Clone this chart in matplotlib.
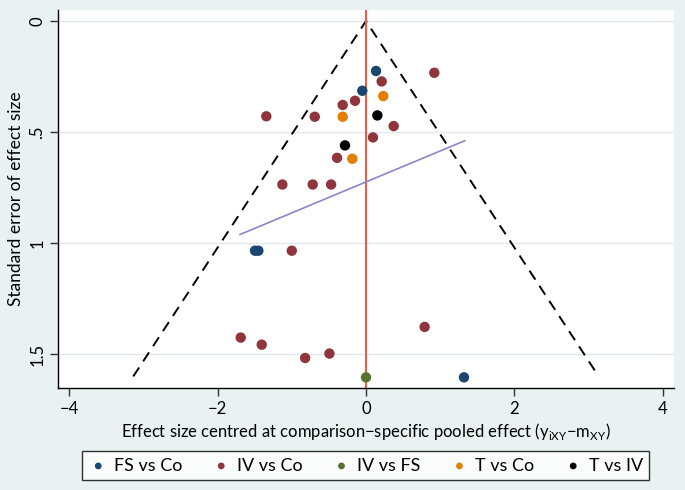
import matplotlib
matplotlib.use("Agg")
import matplotlib.pyplot as plt
import numpy as np

plt.rcParams['font.family'] = ['Lato', 'DejaVu Sans']

# ---- data (x = centred effect size, y = standard error) ----
fs_co_x = [0.135, -0.05, -1.495, -1.45, 1.32]
fs_co_y = [0.225, 0.314, 1.034, 1.034, 1.604]

iv_co_x = [0.92, 0.211, -0.148, -0.314, -1.343, -0.69, 0.373, 0.094, -0.39,
           -1.127, -0.718, -0.47, -1.0, 0.79, -1.688, -1.405, -0.82, -0.493]
iv_co_y = [0.233, 0.272, 0.359, 0.378, 0.429, 0.431, 0.473, 0.524, 0.616,
           0.736, 0.736, 0.736, 1.034, 1.377, 1.425, 1.457, 1.517, 1.497]

iv_fs_x = [0.0]
iv_fs_y = [1.604]

t_co_x = [0.233, -0.314, -0.185]
t_co_y = [0.338, 0.431, 0.62]

t_iv_x = [0.153, -0.283]
t_iv_y = [0.425, 0.56]

series = [
    ("FS vs Co", fs_co_x, fs_co_y, "#1a476f"),
    ("IV vs Co", iv_co_x, iv_co_y, "#90353b"),
    ("IV vs FS", iv_fs_x, iv_fs_y, "#55752f"),
    ("T vs Co", t_co_x, t_co_y, "#e37e00"),
    ("T vs IV", t_iv_x, t_iv_y, "#000000"),
]

# pseudo confidence limits
se_max = 1.6
z = 1.96
# regression line endpoints
reg_x = [-1.697, 1.33]
reg_y = [0.961, 0.539]

xticks = [-4, -2, 0, 2, 4]
yticks = [0, 0.5, 1, 1.5]
yticklabels = ["0", ".5", "1", "1.5"]

bg = "#e9f1f3"
fig = plt.figure(figsize=(6.85, 4.9), dpi=100, facecolor=bg)
ax = fig.add_axes([58/685, 1-388/490, (674-58)/685, (388-10)/490])
ax.set_facecolor("white")

ax.set_xlim(-4.15, 4.15)
ax.set_ylim(1.652, -0.0495)

for yt in yticks:
    ax.axhline(yt, color="#dfe9ed", lw=1.0, zorder=0)

ax.plot([-z*se_max, 0, z*se_max], [se_max, 0, se_max], color="black",
        lw=1.4, dashes=(5.5, 3.8), zorder=2)
ax.axvline(0, color="#e8604a", lw=1.5, zorder=2)
ax.plot(reg_x, reg_y, color="#8c86c8", lw=1.2, zorder=2)

for name, xs, ys, c in series:
    ax.scatter(xs, ys, s=56, color=c, edgecolors="none", zorder=3, label=name)

for s in ["top", "right"]:
    ax.spines[s].set_visible(False)
for s in ["left", "bottom"]:
    ax.spines[s].set_color("black")
    ax.spines[s].set_linewidth(1.0)

ax.set_xticks(xticks)
ax.set_xticklabels(["\u22124", "\u22122", "0", "2", "4"])
ax.set_yticks(yticks)
ax.set_yticklabels(yticklabels, rotation=90, va="center")
ax.tick_params(axis="both", length=6, width=1.0, color="#333333",
               labelsize=12, pad=3)

ax.set_xlabel("Effect size centred at comparison\u2212specific pooled effect "
              "(y$_{\\mathregular{iXY}}$\u2212m$_{\\mathregular{XY}}$)",
              fontsize=12, labelpad=3)
ax.set_ylabel("Standard error of effect size", fontsize=12.5, labelpad=4)

leg = fig.legend(loc="lower left",
                 bbox_to_anchor=(82/685, 1-480/490, (649-82)/685, 33/490),
                 mode="expand", ncol=5, frameon=True, fancybox=False,
                 edgecolor="black", fontsize=13, markerscale=0.65,
                 handletextpad=0.3, borderaxespad=0, handlelength=1.1,
                 borderpad=0.35)
leg.get_frame().set_linewidth(1.0)

fig.savefig("out.png", dpi=100, facecolor=bg)
